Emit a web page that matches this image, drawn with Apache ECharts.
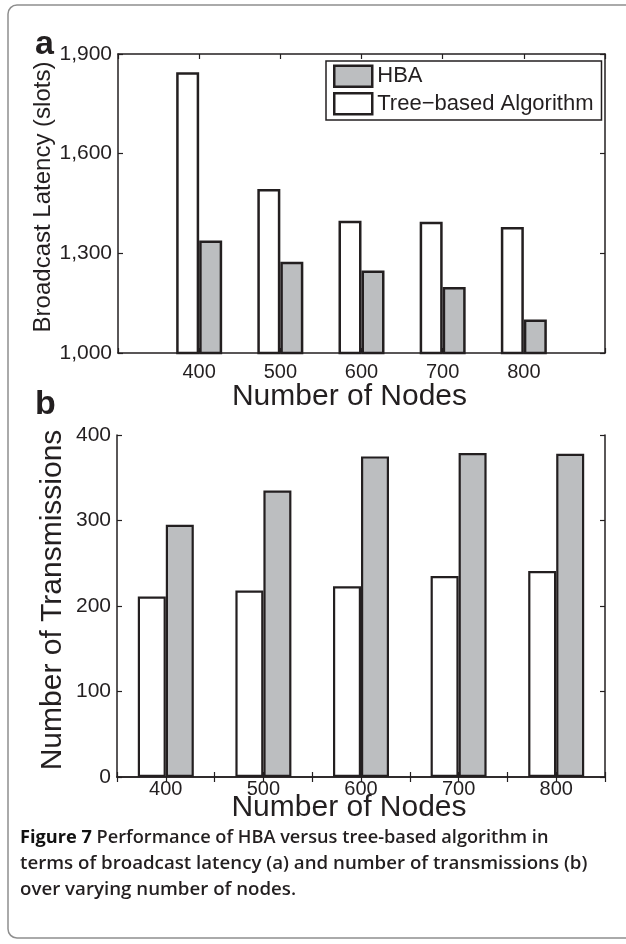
<!DOCTYPE html>
<html>
<head>
<meta charset="utf-8">
<script src="https://cdn.jsdelivr.net/npm/echarts@6/dist/echarts.min.js"></script>
<style>
html,body{margin:0;padding:0;background:#fff;}
#chart{width:626px;height:944px;}
</style>
</head>
<body>
<div id="chart"></div>
<script>
// ---- data ----
const nodes = [400, 500, 600, 700, 800];
const latencyTree = [1845, 1494, 1398, 1395, 1379];
const latencyHBA  = [1339, 1275, 1248, 1199, 1101];
const transTree = [211, 218, 223, 235, 241];
const transHBA  = [295, 335, 375, 379, 378];
const seriesNames = ['HBA', 'Tree\u2212based Algorithm'];
const xLabelA = 'Number of Nodes';
const yLabelA = 'Broadcast Latency (slots)';
const xLabelB = 'Number of Nodes';
const yLabelB = 'Number of Transmissions';
const captionBold = 'Figure 7';
const captionLines = [
  ' Performance of HBA versus tree-based algorithm in',
  'terms of broadcast latency (a) and number of transmissions (b)',
  'over varying number of nodes.'
];

const INK = '#231f20';
const GRAY = '#bcbec0';
const FONT = '"Liberation Sans", Arial, Helvetica, sans-serif';

const chart = echarts.init(document.getElementById('chart'), null, {renderer: 'canvas'});

function pairs(xs, ys) { return xs.map((x, i) => [x, ys[i]]); }

const axisLine = {show: true, lineStyle: {color: INK, width: 1.5}};
const tickIn = {show: true, inside: true, length: 5, lineStyle: {color: INK, width: 1.2}};

function frameX(grid, min, max, interval) {
  return {type: 'value', gridIndex: grid, position: 'top', min, max, interval,
    axisLine, axisTick: tickIn, axisLabel: {show: false}, splitLine: {show: false}};
}
function frameY(grid, min, max, interval) {
  return {type: 'value', gridIndex: grid, position: 'right', min, max, interval,
    axisLine, axisTick: tickIn, axisLabel: {show: false}, splitLine: {show: false}};
}

const option = {
  animation: false,
  backgroundColor: '#fff',
  textStyle: {fontFamily: FONT, color: INK},
  grid: [
    {left: 118, right: 21, top: 54, height: 299},
    {left: 117, right: 21, top: 435, height: 342}
  ],
  legend: {
    data: seriesNames,
    orient: 'vertical',
    left: 326, top: 61,
    itemWidth: 38, itemHeight: 21, itemGap: 4,
    padding: [3.5, 8, 4.5, 7],
    borderColor: INK, borderWidth: 1.5,
    icon: 'rect',
    itemStyle: {borderColor: INK, borderWidth: 2.5},
    textStyle: {fontSize: 22, color: INK, fontFamily: FONT}
  },
  xAxis: [
    {type: 'value', gridIndex: 0, min: 300, max: 900, interval: 100,
      name: xLabelA, nameLocation: 'middle', nameGap: 29, nameMoveOverlap: false,
      nameTextStyle: {fontSize: 30, color: INK, padding: [0, 24, 0, 0]},
      axisLine, axisTick: tickIn,
      axisLabel: {fontSize: 20, color: INK, margin: 9,
        formatter: v => (nodes.indexOf(v) >= 0 ? String(v) : '')},
      splitLine: {show: false}},
    {type: 'value', gridIndex: 1, min: 350, max: 850, interval: 50,
      name: xLabelB, nameLocation: 'middle', nameGap: 16, nameMoveOverlap: false,
      nameTextStyle: {fontSize: 30, color: INK, padding: [0, 24, 0, 0]},
      axisLine, axisTick: tickIn,
      axisLabel: {fontSize: 20, color: INK, margin: 2,
        formatter: v => (nodes.indexOf(v) >= 0 ? String(v) : '')},
      splitLine: {show: false}},
    frameX(0, 300, 900, 100),
    frameX(1, 350, 850, 50)
  ],
  yAxis: [
    {type: 'value', gridIndex: 0, min: 1000, max: 1900, interval: 300,
      axisLine, axisTick: tickIn,
      axisLabel: {fontSize: 21, color: INK, margin: 6,
        formatter: v => v.toLocaleString('en-US')},
      splitLine: {show: false}},
    {type: 'value', gridIndex: 1, min: 0, max: 400, interval: 100,
      axisLine, axisTick: tickIn,
      axisLabel: {fontSize: 21, color: INK, margin: 6},
      splitLine: {show: false}},
    frameY(0, 1000, 1900, 300),
    frameY(1, 0, 400, 100)
  ],
  series: [
    {name: seriesNames[1], type: 'bar', xAxisIndex: 0, yAxisIndex: 0,
      barWidth: 23, barGap: '0%', data: pairs(nodes, latencyTree),
      itemStyle: {color: '#fff', borderColor: INK, borderWidth: 2.5}},
    {name: seriesNames[0], type: 'bar', xAxisIndex: 0, yAxisIndex: 0,
      barWidth: 23, barGap: '0%', data: pairs(nodes, latencyHBA),
      itemStyle: {color: GRAY, borderColor: INK, borderWidth: 2.5}},
    {name: seriesNames[1], type: 'bar', xAxisIndex: 1, yAxisIndex: 1,
      barWidth: 28, barGap: '0%', data: pairs(nodes, transTree),
      itemStyle: {color: '#fff', borderColor: INK, borderWidth: 2.2}},
    {name: seriesNames[0], type: 'bar', xAxisIndex: 1, yAxisIndex: 1,
      barWidth: 28, barGap: '0%', data: pairs(nodes, transHBA),
      itemStyle: {color: GRAY, borderColor: INK, borderWidth: 2.2}}
  ],
  graphic: [
    {type: 'rect', shape: {x: 8, y: 5, width: 640, height: 933, r: 9},
      style: {fill: 'none', stroke: '#8e8e8e', lineWidth: 1.5}, silent: true, z: -1},
    {type: 'text', left: 35, top: 28,
      style: {text: 'a', font: 'bold 34px ' + FONT, fill: INK}},
    {type: 'text', left: 35, top: 388,
      style: {text: 'b', font: 'bold 34px ' + FONT, fill: INK}},
    {type: 'text', x: 43, y: 197, rotation: Math.PI / 2,
      style: {text: yLabelA, font: '24px ' + FONT, fill: INK, align: 'center', verticalAlign: 'middle'}},
    {type: 'text', x: 53, y: 600, rotation: Math.PI / 2,
      style: {text: yLabelB, font: '30px ' + FONT, fill: INK, align: 'center', verticalAlign: 'middle'}},
    {type: 'text', left: 20, top: 829,
      style: {
        text: '{b|' + captionBold + '}{n|' + captionLines[0] + '}\n{m|' + captionLines[1] + '}\n{m|' + captionLines[2] + '}',
        fill: INK,
        rich: {
          b: {fontFamily: '"Open Sans", sans-serif', fontWeight: 'bold', fontSize: 18.2, lineHeight: 26, fill: '#111'},
          n: {fontFamily: '"Open Sans", sans-serif', fontWeight: 600, fontSize: 18.2, lineHeight: 26, fill: INK},
          m: {fontFamily: '"Open Sans", sans-serif', fontWeight: 600, fontSize: 18.7, lineHeight: 26, fill: INK}
        }
      }}
  ]
};
chart.setOption(option);
</script>
</body>
</html>
